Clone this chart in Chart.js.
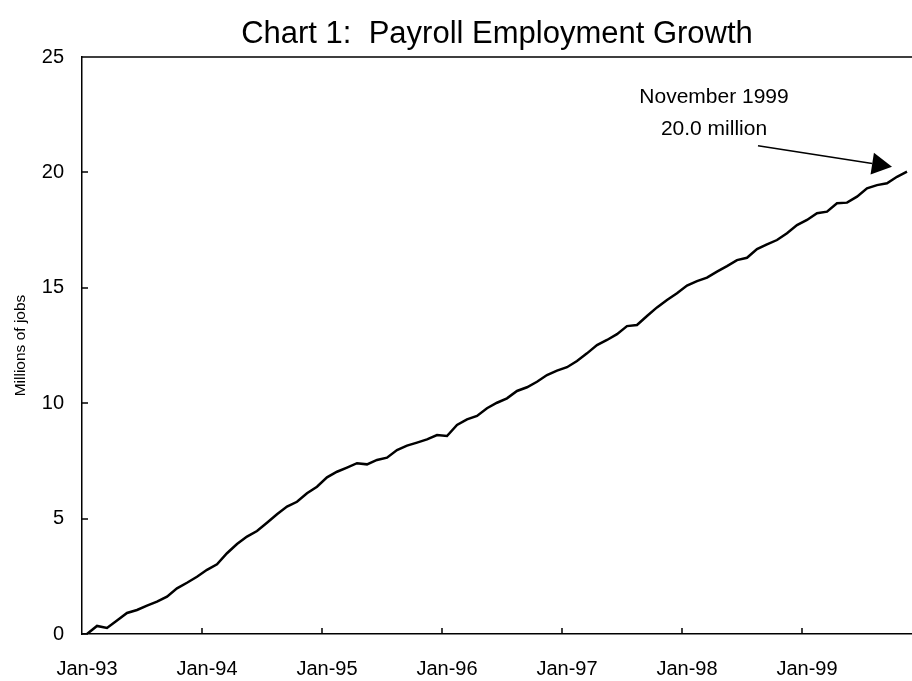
<!DOCTYPE html>
<html>
<head>
<meta charset="utf-8">
<title>Payroll Employment Growth</title>
<script src="https://cdn.jsdelivr.net/npm/chart.js@4.4.1/dist/chart.umd.min.js"></script>
<style>
  html, body { margin: 0; padding: 0; background: #fff; }
</style>
</head>
<body>
<canvas id="chart" width="912" height="681"></canvas>
<script>
const monthNames = ['Jan', 'Feb', 'Mar', 'Apr', 'May', 'Jun', 'Jul', 'Aug', 'Sep', 'Oct', 'Nov', 'Dec'];
const years = ['93', '94', '95', '96', '97', '98', '99'];

// cumulative payroll jobs added since Jan-93, millions
const jobs1993 = [0.0, 0.35, 0.26, 0.58, 0.91, 1.04, 1.23, 1.40, 1.62, 1.98, 2.22, 2.48];
const jobs1994 = [2.78, 3.02, 3.50, 3.90, 4.22, 4.46, 4.82, 5.19, 5.52, 5.73, 6.10, 6.38];
const jobs1995 = [6.79, 7.03, 7.21, 7.40, 7.35, 7.54, 7.64, 7.97, 8.16, 8.29, 8.43, 8.62];
const jobs1996 = [8.58, 9.06, 9.30, 9.45, 9.78, 10.02, 10.21, 10.53, 10.69, 10.93, 11.22, 11.41];
const jobs1997 = [11.56, 11.83, 12.16, 12.52, 12.74, 12.99, 13.34, 13.39, 13.78, 14.15, 14.47, 14.76];
const jobs1998 = [15.10, 15.29, 15.44, 15.70, 15.94, 16.20, 16.30, 16.68, 16.88, 17.07, 17.36, 17.72];
const jobs1999 = [17.94, 18.23, 18.30, 18.66, 18.69, 18.95, 19.31, 19.45, 19.53, 19.81, 20.03];

const yTicks = [0, 5, 10, 15, 20, 25];
const chartTitle = 'Chart 1:  Payroll Employment Growth';
const noteLines = ['November 1999', '20.0 million'];

const jobs = [].concat(jobs1993, jobs1994, jobs1995, jobs1996, jobs1997, jobs1998, jobs1999);
let labels = [];
years.forEach(y => monthNames.forEach(m => labels.push(m + '-' + y)));
labels = labels.slice(0, jobs.length);

const FONT = '"Liberation Sans", Arial, Helvetica, sans-serif';

// Excel style tick marks pointing into the plot, top frame line and the title
const frame = {
  id: 'frame',
  afterDatasetsDraw(chart) {
    const { ctx, chartArea, scales: { x, y } } = chart;
    const half = (x.getPixelForValue(1) - x.getPixelForValue(0)) / 2;
    ctx.save();
    ctx.strokeStyle = '#000';
    ctx.lineWidth = 1.5;
    ctx.beginPath();
    ctx.moveTo(chartArea.left, chartArea.top);
    ctx.lineTo(chartArea.right, chartArea.top);
    labels.forEach((l, i) => {
      if (i > 0 && i % 12 === 0) {
        const px = Math.round(x.getPixelForValue(i) - half);
        ctx.moveTo(px, chartArea.bottom);
        ctx.lineTo(px, chartArea.bottom - 6);
      }
    });
    yTicks.forEach(v => {
      const py = Math.round(y.getPixelForValue(v));
      ctx.moveTo(chartArea.left, py);
      ctx.lineTo(chartArea.left + 6, py);
    });
    ctx.stroke();

    // title is centred over the plot area, not the canvas
    ctx.fillStyle = '#000';
    ctx.font = '31px ' + FONT;
    ctx.textAlign = 'center';
    ctx.textBaseline = 'middle';
    ctx.fillText(chartTitle, (chartArea.left + chartArea.right) / 2, chartArea.top - 23);
    ctx.restore();
  }
};

// callout arrow pointing at the last month
const callout = {
  id: 'callout',
  afterDraw(chart) {
    const { ctx } = chart;
    const pts = chart.getDatasetMeta(0).data;
    const last = pts[pts.length - 1];
    const tipX = last.x - 15, tipY = last.y - 5;
    const fromX = tipX - 134, fromY = tipY - 21;
    const ang = Math.atan2(tipY - fromY, tipX - fromX);
    const headLen = 20, headW = 11;
    const baseX = tipX - headLen * Math.cos(ang), baseY = tipY - headLen * Math.sin(ang);

    ctx.save();
    ctx.strokeStyle = '#000';
    ctx.fillStyle = '#000';
    ctx.lineWidth = 1.5;
    ctx.beginPath();
    ctx.moveTo(fromX, fromY);
    ctx.lineTo(baseX, baseY);
    ctx.stroke();
    ctx.beginPath();
    ctx.moveTo(tipX, tipY);
    ctx.lineTo(baseX + headW * Math.sin(ang), baseY - headW * Math.cos(ang));
    ctx.lineTo(baseX - headW * Math.sin(ang), baseY + headW * Math.cos(ang));
    ctx.closePath();
    ctx.fill();

    ctx.font = '21px ' + FONT;
    ctx.textAlign = 'center';
    ctx.textBaseline = 'middle';
    ctx.fillText(noteLines[0], tipX - 178, tipY - 70);
    ctx.fillText(noteLines[1], tipX - 178, tipY - 38);
    ctx.restore();
  }
};

new Chart(document.getElementById('chart'), {
  type: 'line',
  data: {
    labels: labels,
    datasets: [{
      data: jobs,
      borderColor: '#000',
      borderWidth: 2.5,
      pointRadius: 0,
      tension: 0,
      fill: false
    }]
  },
  options: {
    responsive: false,
    animation: false,
    layout: { padding: { top: 57, left: 0, right: 0, bottom: 0 } },
    plugins: {
      legend: { display: false },
      tooltip: { enabled: false },
      title: { display: false }
    },
    scales: {
      x: {
        type: 'category',
        offset: true,
        grid: { display: false, drawTicks: false },
        border: { display: true, color: '#000', width: 1.5 },
        ticks: {
          autoSkip: false,
          maxRotation: 0,
          padding: 23,
          color: '#000',
          font: { family: FONT, size: 20 },
          callback: (v, i) => (i % 12 === 0 ? labels[i] : '')
        },
        afterFit: s => {
          s.height = 47;
          s.paddingLeft = 0;
          s.paddingRight = 0;
        }
      },
      y: {
        min: 0,
        max: 25,
        afterBuildTicks: s => { s.ticks = yTicks.map(v => ({ value: v })); },
        grid: { display: false, drawTicks: false },
        border: { display: true, color: '#000', width: 1.5 },
        ticks: {
          padding: 18,
          color: '#000',
          font: { family: FONT, size: 20 }
        },
        title: {
          display: true,
          text: 'Millions of jobs',
          color: '#000',
          font: { family: FONT, size: 15.5 },
          padding: { top: 11, bottom: 0 }
        },
        afterFit: s => { s.width = 82; }
      }
    }
  },
  plugins: [frame, callout]
});
</script>
</body>
</html>
